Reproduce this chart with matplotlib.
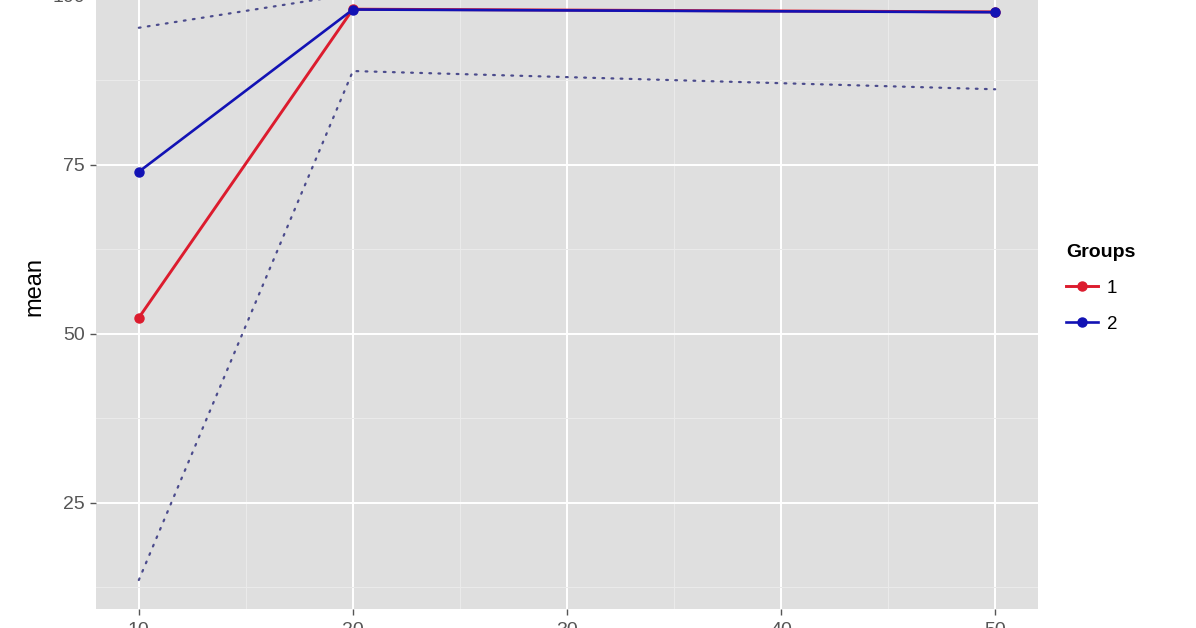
import matplotlib
matplotlib.use("Agg")
import matplotlib.pyplot as plt
from matplotlib.ticker import MultipleLocator

# values
x = [10, 20, 50]
g1_mean = [52.4, 98.05, 97.65]
g2_mean = [74.0, 98.0, 97.6]
g2_upper = [95.3, 100.3, 100.1]
g2_lower = [13.6, 88.9, 86.2]
group_labels = ["1", "2"]
x_ticks = [10, 20, 30, 40, 50]
y_ticks = [25, 50, 75, 100]

plt.rcParams['font.family'] = ['Liberation Sans', 'DejaVu Sans']

fig = plt.figure(figsize=(11.96, 6.28), dpi=100)
# panel runs past the top edge, like the cropped original
ax = fig.add_axes([96/1196, 18.9/628, 942/1196, 644.2/628])
ax.set_facecolor('#dfdfdf')
for s in ax.spines.values():
    s.set_visible(False)

ax.set_xlim(8, 52)
ax.set_ylim(9.3, 104.6)
ax.set_xticks(x_ticks)
ax.set_yticks(y_ticks)
ax.xaxis.set_minor_locator(MultipleLocator(5))
ax.yaxis.set_minor_locator(MultipleLocator(12.5))
ax.grid(which='major', color='white', linewidth=1.4)
ax.grid(which='minor', color='#ebebeb', linewidth=0.7)
ax.set_axisbelow(True)
ax.tick_params(which='major', length=4.5, width=1, color='#555555',
               labelcolor='#555555', labelsize=14, pad=3.5)
ax.tick_params(axis='x', which='major', pad=4.5)
ax.tick_params(which='minor', length=0)

dot = dict(color='#4b4b8c', linewidth=1.6, linestyle=(0, (0.8, 3.3)),
           dash_capstyle='round')
ax.plot(x, g2_upper, **dot)
ax.plot(x, g2_lower, **dot)

ax.plot(x, g1_mean, color='#dc1c2e', linewidth=2.1, marker='o',
        markersize=6.5, label=group_labels[0])
ax.plot(x, g2_mean, color='#1212b4', linewidth=1.9, marker='o',
        markersize=6.5, label=group_labels[1])

ax.set_ylabel('mean', fontsize=17, color='black', labelpad=5)

leg = ax.legend(title='Groups', loc='upper left',
                bbox_to_anchor=(1049/1196, 1 - 227/628),
                bbox_transform=fig.transFigure, frameon=False,
                fontsize=13.5, title_fontsize=14, handlelength=1.7,
                labelspacing=1.0, handletextpad=0.5, alignment='left')
leg.get_title().set_fontweight('bold')

fig.savefig('out.png', dpi=100)
